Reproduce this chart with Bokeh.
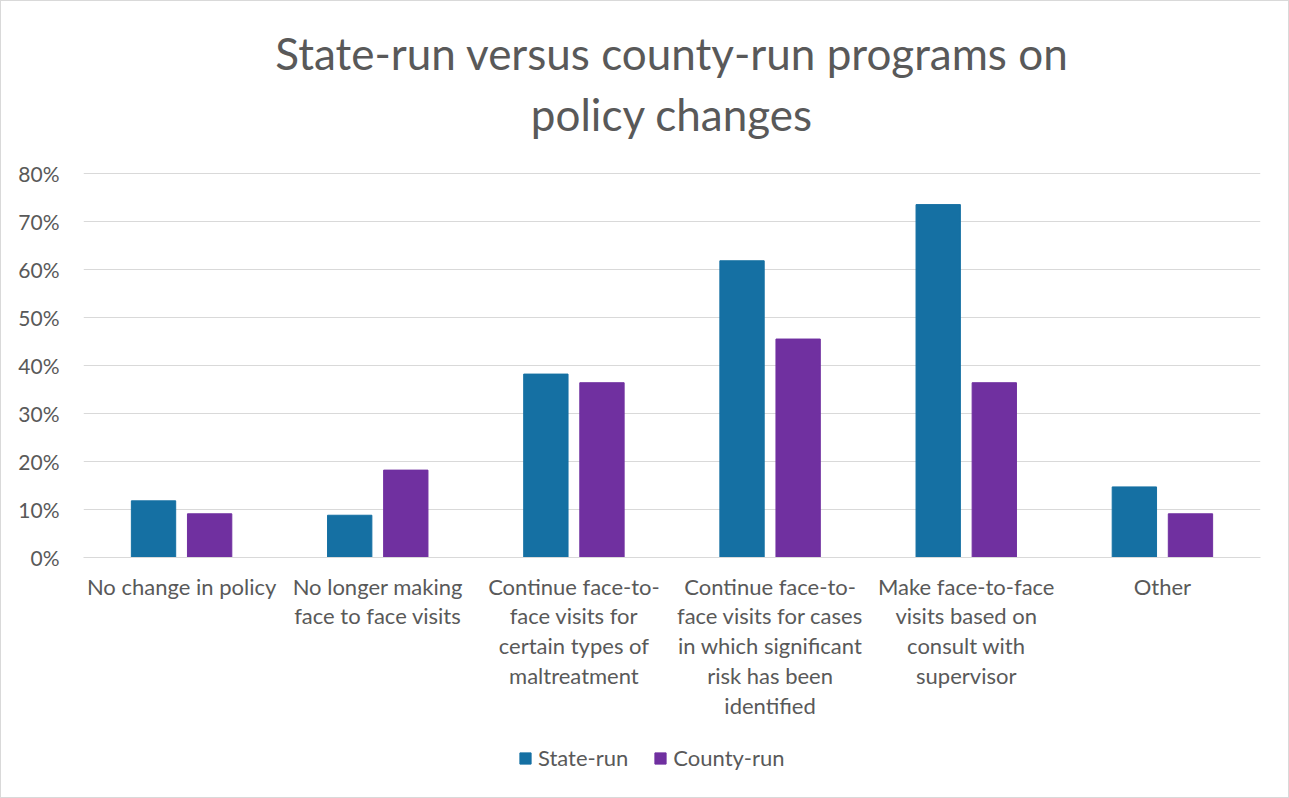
from bokeh.plotting import figure
from bokeh.layouts import column
from bokeh.models import ColumnDataSource, FactorRange, Range1d, Title, Legend, LegendItem, NumeralTickFormatter, FixedTicker
from bokeh.transform import dodge
from bokeh.embed import file_html
from bokeh.resources import INLINE

categories = [
    "No change in policy",
    "No longer making\nface to face visits",
    "Continue face-to-\nface visits for\ncertain types of\nmaltreatment",
    "Continue face-to-\nface visits for cases\nin which significant\nrisk has been\nidentified",
    "Make face-to-face\nvisits based on\nconsult with\nsupervisor",
    "Other",
]
series_names = ["State-run", "County-run"]
state_run = [0.118, 0.088, 0.382, 0.618, 0.735, 0.147]
county_run = [0.091, 0.182, 0.364, 0.455, 0.364, 0.091]
y_ticks = [0, 0.1, 0.2, 0.3, 0.4, 0.5, 0.6, 0.7, 0.8]
title_lines = ["State-run versus county-run programs on", "policy changes"]

FONT = "Lato"
GRAY = "#595959"
STATE_COLOR = "#1570A3"
COUNTY_COLOR = "#7030A0"

src = ColumnDataSource(dict(cat=categories, state=state_run, county=county_run))

p = figure(
    width=1287, height=739,
    x_range=FactorRange(*categories),
    y_range=Range1d(0, 0.856),
    output_backend="svg", toolbar_location=None,
    min_border_left=82, min_border_right=28, min_border_top=145, min_border_bottom=183,
)

# second line (nearest the plot) first, then the first line above it
p.add_layout(Title(text=title_lines[1], text_font=FONT, text_font_size="44px",
                   text_font_style="normal", text_color=GRAY, align="center",
                   standoff=14), "above")
p.add_layout(Title(text=title_lines[0], text_font=FONT, text_font_size="44px",
                   text_font_style="normal", text_color=GRAY, align="center",
                   standoff=0), "above")

p.vbar(x=dodge("cat", -0.143, range=p.x_range), top="state", width=0.226,
       source=src, fill_color=STATE_COLOR, line_color=STATE_COLOR)
p.vbar(x=dodge("cat", 0.143, range=p.x_range), top="county", width=0.226,
       source=src, fill_color=COUNTY_COLOR, line_color=COUNTY_COLOR)

p.yaxis.ticker = FixedTicker(ticks=y_ticks)
p.yaxis.formatter = NumeralTickFormatter(format="0%")
p.yaxis.axis_line_color = None
p.yaxis.major_tick_line_color = None
p.yaxis.minor_tick_line_color = None
p.yaxis.major_label_text_font = FONT
p.yaxis.major_label_text_font_size = "21px"
p.yaxis.major_label_text_color = GRAY
p.yaxis.major_label_standoff = 18

p.xaxis.axis_line_color = "#d9d9d9"
p.xaxis.major_tick_line_color = None
p.xaxis.minor_tick_line_color = None
p.xaxis.major_label_text_font = FONT
p.xaxis.major_label_text_font_size = "22px"
p.xaxis.major_label_text_color = GRAY
p.xaxis.major_label_standoff = 9
p.xaxis.major_label_text_align = "center"
p.xaxis.major_label_text_baseline = "top"
p.xaxis.major_label_text_line_height = 1.11
p.xaxis.major_label_orientation = "horizontal"

p.xgrid.grid_line_color = None
p.ygrid.grid_line_color = "#d9d9d9"
p.ygrid.grid_line_width = 1
p.outline_line_color = None

# legend strip below the chart (hidden stand-in glyphs carry the legend swatches)
p2 = figure(width=1287, height=57, x_range=Range1d(0, 1), y_range=Range1d(0, 1),
            output_backend="svg", toolbar_location=None,
            min_border_left=0, min_border_right=0, min_border_top=0, min_border_bottom=0)
p2.axis.visible = False
p2.grid.visible = False
p2.outline_line_color = None
l1 = p2.vbar(x=[-1], top=[0], width=0.1, fill_color=STATE_COLOR, line_color=STATE_COLOR)
l2 = p2.vbar(x=[-1], top=[0], width=0.1, fill_color=COUNTY_COLOR, line_color=COUNTY_COLOR)
legend = Legend(items=[LegendItem(label=series_names[0], renderers=[l1]),
                       LegendItem(label=series_names[1], renderers=[l2])],
                orientation="horizontal", location=(435, 26),
                label_text_font=FONT, label_text_font_size="22px", label_text_color=GRAY,
                glyph_width=14, glyph_height=14, spacing=25, label_standoff=6,
                border_line_color=None, background_fill_alpha=0, margin=0, padding=0)
p2.add_layout(legend, "center")

layout = column(p, p2, spacing=0)
layout.styles = {"border": "1px solid #d9d9d9"}
open("out.html", "w").write(file_html(layout, INLINE))
